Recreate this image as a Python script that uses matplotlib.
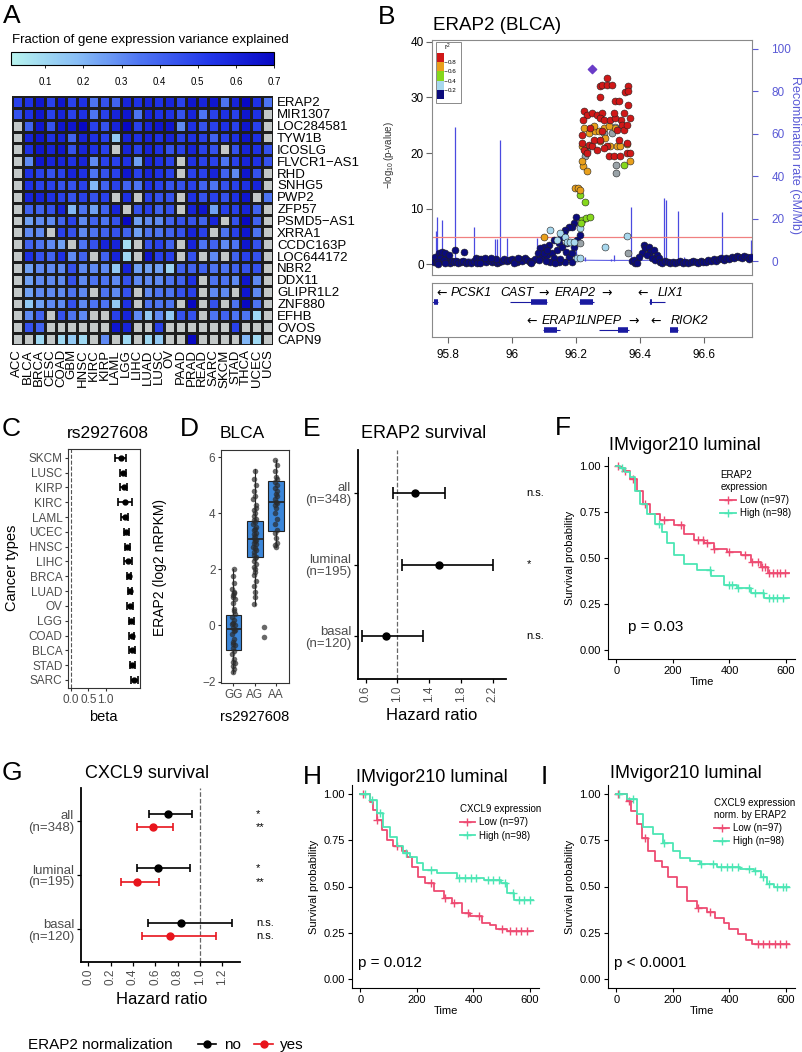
import matplotlib
matplotlib.use("Agg")
import matplotlib.pyplot as plt
import matplotlib.transforms as mtrans
from matplotlib.colors import LinearSegmentedColormap, ListedColormap, BoundaryNorm
from matplotlib.lines import Line2D
from matplotlib.patches import Rectangle
import numpy as np

plt.rcParams['font.family'] = ['Liberation Sans', 'DejaVu Sans']
plt.rcParams['mathtext.fontset'] = 'custom'
plt.rcParams['mathtext.rm'] = 'Liberation Sans'
plt.rcParams['mathtext.it'] = 'Liberation Sans:italic'

n = np.nan

# ---------------- panel A: variance explained heatmap
cancers = ['ACC', 'BLCA', 'BRCA', 'CESC', 'COAD', 'GBM', 'HNSC', 'KIRC', 'KIRP', 'LAML', 'LGG', 'LIHC',
           'LUAD', 'LUSC', 'OV', 'PAAD', 'PRAD', 'READ', 'SARC', 'SKCM', 'STAD', 'THCA', 'UCEC', 'UCS']
genes = ['ERAP2', 'MIR1307', 'LOC284581', 'TYW1B', 'ICOSLG', 'FLVCR1\u2212AS1', 'RHD', 'SNHG5', 'PWP2',
         'ZFP57', 'PSMD5\u2212AS1', 'XRRA1', 'CCDC163P', 'LOC644172', 'NBR2', 'DDX11', 'GLIPR1L2',
         'ZNF880', 'EFHB', 'OVOS', 'CAPN9']
heat_vals = [
    [0.50, 0.55, 0.65, 0.50, 0.65, 0.50, 0.55, 0.35, 0.45, 0.40, 0.60, 0.55, 0.60, 0.55, 0.60, 0.50, 0.65, 0.60, 0.65, 0.35, 0.60, 0.70, 0.55, 0.35],
    [0.45, 0.55, 0.65, 0.50, 0.60, 0.50, 0.55, 0.35, 0.50, 0.60, 0.65, 0.35, 0.60, 0.55, 0.55, 0.45, 0.60, 0.35, 0.50, 0.55, 0.50, 0.65, 0.55, n],
    [n, 0.40, 0.65, 0.45, 0.65, 0.65, 0.70, 0.50, 0.45, 0.60, 0.70, 0.50, 0.60, 0.65, 0.65, 0.30, 0.55, 0.45, 0.50, 0.55, 0.50, 0.65, 0.50, n],
    [n, 0.60, 0.65, 0.55, 0.60, 0.40, 0.60, 0.55, 0.50, 0.15, 0.60, 0.55, 0.60, 0.55, 0.60, 0.50, 0.55, 0.50, 0.40, 0.50, 0.55, 0.65, 0.55, n],
    [n, 0.55, 0.65, 0.60, 0.65, 0.45, 0.60, 0.55, 0.50, n, 0.60, 0.50, 0.60, 0.55, 0.45, 0.50, 0.60, 0.50, 0.45, n, 0.45, 0.60, 0.55, 0.45],
    [n, 0.30, 0.65, 0.60, 0.60, 0.55, 0.60, 0.30, 0.50, 0.50, 0.55, 0.25, 0.60, 0.55, 0.50, n, 0.55, 0.50, 0.50, 0.35, 0.50, 0.60, 0.55, 0.45],
    [n, 0.55, 0.50, 0.45, 0.50, 0.60, 0.55, 0.35, 0.45, 0.50, 0.65, 0.50, 0.60, 0.55, 0.50, n, 0.50, 0.50, 0.60, 0.40, 0.30, 0.65, 0.45, n],
    [n, 0.55, 0.50, 0.50, 0.45, 0.45, 0.50, 0.20, 0.40, 0.50, 0.40, 0.35, 0.55, 0.50, 0.45, 0.45, 0.50, 0.40, 0.35, 0.45, 0.50, 0.55, 0.60, n],
    [n, 0.60, 0.60, 0.55, 0.50, 0.45, 0.50, 0.45, 0.50, n, 0.55, n, 0.50, 0.45, 0.45, n, 0.55, 0.45, 0.50, 0.45, 0.55, 0.65, n, 0.35],
    [n, 0.40, 0.40, 0.45, 0.60, 0.20, 0.35, 0.25, 0.40, 0.60, n, 0.45, 0.50, 0.40, 0.45, n, 0.60, 0.65, 0.25, 0.50, 0.50, 0.60, 0.40, n],
    [n, 0.25, 0.30, 0.30, 0.40, 0.50, 0.30, 0.40, 0.35, 0.45, 0.70, 0.25, 0.30, 0.30, 0.40, 0.45, 0.45, 0.40, 0.60, n, 0.45, 0.70, 0.40, n],
    [n, 0.30, 0.30, n, 0.50, 0.45, 0.30, 0.35, 0.40, 0.45, 0.40, 0.25, 0.35, 0.35, 0.40, 0.45, 0.60, 0.50, n, 0.35, 0.50, 0.65, 0.35, n],
    [n, 0.40, 0.35, 0.30, 0.25, n, 0.35, 0.45, 0.60, 0.60, 0.08, n, 0.45, 0.50, 0.40, n, 0.60, 0.35, 0.40, 0.30, 0.35, 0.65, 0.45, n],
    [n, 0.55, 0.45, 0.40, 0.55, 0.30, 0.40, n, 0.40, 0.60, 0.10, n, 0.65, 0.50, 0.50, n, 0.45, n, 0.30, n, 0.40, 0.50, 0.45, n],
    [n, 0.25, 0.30, 0.30, 0.30, 0.45, 0.30, 0.30, 0.30, 0.15, 0.60, 0.25, 0.25, 0.25, 0.12, 0.40, 0.40, 0.40, 0.35, 0.35, 0.40, 0.45, 0.45, n],
    [n, 0.25, 0.30, 0.30, 0.30, 0.45, 0.30, 0.35, 0.35, 0.30, 0.45, 0.30, 0.30, 0.30, 0.35, 0.40, 0.55, n, 0.35, 0.35, 0.30, 0.65, 0.30, n],
    [n, 0.25, 0.30, 0.30, 0.30, 0.35, 0.30, n, 0.35, 0.30, 0.45, n, 0.30, 0.35, 0.35, 0.45, 0.50, n, 0.30, 0.30, n, 0.65, 0.30, n],
    [n, 0.15, 0.25, 0.30, 0.30, 0.45, 0.30, 0.35, 0.35, 0.15, 0.55, n, 0.35, 0.35, 0.35, n, 0.70, n, 0.45, n, 0.35, 0.70, 0.35, n],
    [n, 0.30, 0.40, n, 0.45, 0.35, 0.30, n, n, 0.50, 0.60, 0.30, 0.15, 0.30, 0.15, 0.45, 0.45, n, 0.35, 0.40, 0.35, 0.35, 0.10, n],
    [n, 0.45, 0.40, n, n, n, n, n, n, 0.65, 0.60, n, n, 0.50, n, n, n, n, n, n, 0.50, n, n, n],
    [n, n, 0.10, n, 0.10, 0.15, 0.10, n, 0.30, n, 0.10, n, 0.10, 0.15, n, n, 0.70, n, n, n, n, 0.20, 0.10, n],
]
cbar_ticks = [0.1, 0.2, 0.3, 0.4, 0.5, 0.6, 0.7]

# ---------------- panel B: regional association plot
navy_x = [95.756, 95.762, 95.768, 95.774, 95.78, 95.786, 95.792, 95.798, 95.805, 95.812, 95.818, 95.825,
          95.832, 95.84, 95.848, 95.856, 95.864, 95.872, 95.88, 95.888, 95.896, 95.904, 95.912, 95.92,
          95.928, 95.936, 95.944, 95.952, 95.96, 95.968, 95.976, 95.984, 95.992, 96.0, 96.008, 96.016,
          96.024, 96.032, 96.04, 96.048, 96.056, 96.064, 96.072,
          95.76, 95.771, 95.781, 95.792, 95.802, 95.823, 95.849, 95.776, 95.786, 95.766, 95.77, 95.79,
          95.89, 95.9, 95.95, 95.915, 95.935, 96.005, 96.02, 96.06,
          96.201, 96.193, 96.188, 96.177, 96.167, 96.161, 96.153, 96.146, 96.13, 96.115, 96.099, 96.089,
          96.08, 96.095, 96.109, 96.125, 96.13, 96.141, 96.157, 96.169, 96.177, 96.188, 96.193, 96.203,
          96.214, 96.172, 96.12, 96.146, 96.167, 96.188, 96.099, 96.109, 96.085, 96.105, 96.135, 96.15,
          96.375, 96.385, 96.411, 96.417, 96.427, 96.432, 96.443, 96.453, 96.405, 96.396, 96.422, 96.438,
          96.448, 96.458, 96.38, 96.391,
          96.462, 96.47, 96.478, 96.486, 96.494, 96.502, 96.51, 96.518, 96.526, 96.534, 96.542, 96.55,
          96.558, 96.566, 96.574, 96.582, 96.59, 96.598, 96.606, 96.614, 96.622, 96.63, 96.638, 96.646,
          96.654, 96.662, 96.67, 96.678, 96.686, 96.694, 96.702, 96.71, 96.718, 96.726, 96.734, 96.742,
          96.748]
navy_y = [0.4, 0.8, 1.2, 1.6, 0.6, 1.0, 0.5, 0.9, 0.3, 0.6, 0.4, 0.7,
          0.3, 0.5, 0.6, 0.3, 0.4, 0.2, 0.7, 1.1, 0.9, 1.0, 0.6, 0.5,
          0.8, 0.4, 0.6, 0.3, 0.5, 0.7, 0.9, 0.6, 0.8, 1.0, 0.7, 0.5,
          0.9, 0.6, 1.1, 0.8, 0.4, 0.7, 1.0,
          1.4, 2.0, 2.3, 2.0, 1.7, 2.5, 2.2, 1.1, 0.8, 0.5, 0.1, 0.2,
          0.3, 0.2, 0.9, 1.2, 1.1, 0.3, 1.2, 0.3,
          8.6, 7.4, 6.8, 6.8, 6.2, 5.6, 4.9, 3.8, 4.4, 3.5, 3.2, 2.9,
          2.0, 1.4, 1.7, 2.0, 1.1, 2.6, 3.2, 2.3, 1.4, 2.0, 3.2, 4.4,
          5.3, 3.8, 0.5, 0.5, 0.5, 0.5, 2.0, 2.6, 0.8, 0.6, 0.3, 1.0,
          0.6, 0.3, 3.5, 2.9, 3.2, 2.3, 2.6, 1.7, 2.0, 1.4, 1.7, 1.1,
          0.8, 1.1, 0.8, 0.2,
          0.5, 0.3, 0.6, 0.4, 0.2, 0.5, 0.3, 0.4, 0.6, 0.3, 0.5, 0.2,
          0.4, 0.6, 0.5, 0.3, 0.7, 0.5, 0.4, 0.8, 0.6, 1.0, 0.7, 0.9,
          1.1, 0.8, 1.2, 1.0, 1.4, 1.1, 1.5, 1.3, 1.2, 1.6, 1.3, 1.0,
          1.4]
lblue_x = [96.12, 96.151, 96.167, 96.172, 96.182, 96.193, 96.214, 96.292, 96.359, 96.323, 96.203, 96.214, 96.14]
lblue_y = [6.2, 5.6, 5.0, 4.1, 4.1, 4.1, 6.5, 3.2, 5.1, 24.6, 1.1, 1.1, 4.4]
green_x = [96.214, 96.227, 96.219, 96.215, 96.23, 96.243, 96.349]
green_y = [12.5, 11.2, 8.0, 7.4, 8.3, 8.6, 17.9]
orange_x = [96.198, 96.205, 96.211, 96.222, 96.234, 96.219, 96.224, 96.24, 96.26, 96.271, 96.286, 96.276,
            96.292, 96.219, 96.229, 96.307, 96.328, 96.339, 96.359, 96.37, 96.323, 96.302, 96.255, 96.101]
orange_y = [13.8, 13.7, 13.4, 17.6, 16.7, 18.6, 24.5, 23.6, 23.9, 23.9, 24.5, 22.1,
            22.7, 21.2, 20.3, 21.2, 21.2, 21.2, 21.6, 18.5, 24.5, 24.8, 24.8, 4.9]
red_x = [96.224, 96.234, 96.25, 96.266, 96.281, 96.297, 96.274, 96.281, 96.297, 96.312, 96.276, 96.323,
         96.333, 96.364, 96.354, 96.364, 96.364, 96.37, 96.349, 96.341, 96.276, 96.286, 96.307, 96.323,
         96.219, 96.219, 96.224, 96.24, 96.25, 96.266, 96.255, 96.276, 96.302, 96.318, 96.339, 96.359,
         96.37, 96.297, 96.333, 96.344, 96.222, 96.245, 96.281, 96.328, 96.349, 96.359, 96.318, 96.234,
         96.286, 96.359]
red_y = [27.5, 26.9, 27.2, 26.9, 27.2, 33.5, 32.1, 32.3, 32.3, 32.3, 30.0, 29.4,
         29.4, 32.1, 31.0, 31.1, 28.7, 26.3, 27.2, 26.0, 26.3, 26.0, 26.0, 26.3,
         23.3, 21.8, 20.6, 21.5, 21.2, 20.6, 22.4, 22.4, 19.4, 19.4, 19.4, 20.0,
         20.0, 21.2, 22.4, 25.1, 26.0, 24.5, 23.9, 24.2, 24.2, 25.1, 27.2, 20.0,
         20.9, 21.8]
gray_x = [96.229, 96.234, 96.286, 96.312, 96.326, 96.326, 96.25, 96.364, 96.214]
gray_y = [19.4, 20.3, 23.6, 23.6, 17.9, 16.4, 24.5, 2.0, 3.8]
lead_x = [96.25]
lead_y = [35.1]
rec_spike_pos = [95.763, 95.766, 95.781, 95.821, 95.882, 95.948, 95.953, 95.961, 95.984, 96.078, 96.201,
                 96.227, 96.309, 96.319, 96.372, 96.474, 96.481, 96.519, 96.537, 96.657, 96.748]
rec_spike_val = [14.0, 20.9, 19.3, 63.4, 16.2, 10.2, 10.5, 57.1, 10.7, 10.7, 6.1,
                 2.0, 1.0, 3.0, 25.6, 29.6, 28.9, 23.7, 2.0, 23.3, 10.0]
rec_base_pos = [95.75, 95.8, 95.9, 96.0, 96.1, 96.2, 96.3, 96.4, 96.5, 96.6, 96.7, 96.75]
rec_base_val = [1.2, 1.0, 0.8, 0.9, 0.6, 0.4, 0.3, 0.3, 0.5, 0.6, 0.8, 0.9]
r2_bounds = [0, 0.2, 0.4, 0.6, 0.8, 1.0]
r2_colors = ['#0b0b7c', '#a8d8ee', '#86d81c', '#e9a01c', '#d01818']
gene_names = ['PCSK1', 'CAST', 'ERAP2', 'LIX1', 'ERAP1', 'LNPEP', 'RIOK2']
gene_start = [95.72, 95.995, 96.21, 96.427, 96.096, 96.271, 96.495]
gene_end = [95.768, 96.109, 96.255, 96.479, 96.151, 96.365, 96.518]
exon_start = [95.755, 96.06, 96.212, 96.43, 96.1, 96.33, 96.495]
exon_end = [95.768, 96.109, 96.253, 96.436, 96.14, 96.362, 96.518]
gene_row = [0, 0, 0, 0, 1, 1, 1]
gene_label_x = [95.872, 96.016, 96.196, 96.497, 96.157, 96.28, 96.554]
gene_arrow = ['\u2190', '\u2192', '\u2192', '\u2190', '\u2190', '\u2192', '\u2190']
gene_arrow_x = [95.78, 96.10, 96.294, 96.409, 96.06, 96.38, 96.448]

# ---------------- panel C: eQTL effect per cancer type
c_types = ['SKCM', 'LUSC', 'KIRP', 'KIRC', 'LAML', 'UCEC', 'HNSC', 'LIHC', 'BRCA', 'LUAD', 'OV', 'LGG',
           'COAD', 'BLCA', 'STAD', 'SARC']
c_beta = [1.43, 1.50, 1.52, 1.55, 1.55, 1.59, 1.62, 1.64, 1.67, 1.69, 1.70, 1.73, 1.74, 1.76, 1.76, 1.81]
c_err = [0.16, 0.08, 0.10, 0.20, 0.10, 0.08, 0.07, 0.12, 0.05, 0.06, 0.08, 0.07, 0.08, 0.09, 0.08, 0.10]

# ---------------- panel D: ERAP2 expression by genotype (BLCA)
d_geno = ['GG', 'AG', 'AA']
d_q1 = [-0.87, 2.43, 3.37]
d_med = [-0.14, 3.08, 4.40]
d_q3 = [0.39, 3.73, 5.15]
d_wlo = [-1.70, 0.72, 2.80]
d_whi = [2.00, 5.56, 5.91]
d_gg = [2.0, 1.75, 1.5, 1.3, 1.2, 1.1, 0.95, 0.8, 0.6, 0.4, 0.3, 0.2, 0.1, 0.0, -0.1, -0.2, -0.3, -0.5,
        -0.6, -0.7, -0.8, -0.9, -1.0, -1.2, -1.3, -1.35, -1.45, -1.55, -1.65, 0.05, -0.15, -0.65, 0.5,
        1.0, 1.15]
d_gg_jit = [0.02, -0.03, 0.04, -0.05, 0.03, -0.02, 0.05, -0.04, 0.01, 0.06, -0.06, 0.02, -0.03, 0.05,
            -0.01, 0.04, -0.05, 0.03, -0.02, 0.06, -0.04, 0.01, -0.06, 0.03, -0.02, 0.05, -0.04, 0.02,
            0.0, -0.05, 0.06, -0.03, 0.04, -0.01, 0.03]
d_ag = [5.5, 5.2, 5.0, 4.8, 4.6, 4.5, 4.3, 4.2, 4.1, 4.0, 3.9, 3.8, 3.75, 3.7, 3.6, 3.5, 3.45, 3.4,
        3.3, 3.25, 3.2, 3.1, 3.05, 3.0, 2.95, 2.9, 2.8, 2.75, 2.7, 2.6, 2.5, 2.45, 2.4, 2.3, 2.2, 2.1,
        2.0, 1.9, 1.8, 1.6, 1.4, 1.2, 1.0, 0.75, -0.05, -0.4]
d_ag_jit = [0.0, -0.04, 0.05, -0.02, 0.03, -0.06, 0.04, 0.06, -0.03, 0.02, -0.05, 0.05, -0.01, 0.03,
            -0.06, 0.04, 0.01, -0.04, 0.06, -0.02, 0.03, -0.05, 0.05, 0.0, -0.03, 0.06, -0.06, 0.02,
            0.04, -0.01, -0.05, 0.05, 0.02, -0.03, 0.06, -0.04, 0.01, 0.03, -0.02, 0.04, -0.05, 0.02,
            0.0, -0.03, 0.45, 0.45]
d_aa = [5.9, 5.7, 5.5, 5.3, 5.2, 5.1, 5.0, 4.9, 4.8, 4.7, 4.6, 4.5, 4.4, 4.35, 4.3, 4.2, 4.0, 3.8,
        3.6, 3.4, 3.3, 3.1, 2.95, 2.85, 2.8]
d_aa_jit = [-0.03, 0.04, -0.05, 0.02, 0.06, -0.02, 0.03, -0.06, 0.05, -0.01, 0.04, -0.04, 0.0, 0.06,
            -0.05, 0.02, -0.03, 0.05, -0.02, 0.03, -0.04, 0.01, 0.05, -0.03, 0.02]

# ---------------- panel E / G: hazard ratios
e_groups = ['all\n(n=348)', 'luminal\n(n=195)', 'basal\n(n=120)']
e_hr = [1.22, 1.53, 0.85]
e_lo = [0.945, 1.054, 0.55]
e_hi = [1.60, 2.21, 1.32]
e_sig = ['n.s.', '*', 'n.s.']
e_ticks = [0.6, 1.0, 1.4, 1.8, 2.2]
g_hr_no = [0.716, 0.626, 0.829]
g_lo_no = [0.546, 0.433, 0.531]
g_hi_no = [0.93, 0.91, 1.283]
g_sig_no = ['*', '*', 'n.s.']
g_hr_yes = [0.58, 0.433, 0.734]
g_lo_yes = [0.44, 0.29, 0.477]
g_hi_yes = [0.76, 0.632, 1.14]
g_sig_yes = ['**', '**', 'n.s.']
g_ticks = [0.0, 0.2, 0.4, 0.6, 0.8, 1.0, 1.2]

# ---------------- panels F / H / I: Kaplan-Meier curves (time, survival)
f_low_t = [0, 10, 25, 48, 71, 95, 119, 154, 202, 238, 273, 309, 345, 392, 440, 475, 511, 535, 610]
f_low_s = [1.0, 0.99, 0.975, 0.93, 0.867, 0.795, 0.74, 0.705, 0.68, 0.633, 0.597, 0.58, 0.55, 0.534,
           0.516, 0.48, 0.453, 0.417, 0.417]
f_low_c = [5, 30, 60, 100, 170, 230, 290, 305, 320, 345, 400, 455, 480, 500, 515, 525, 540, 555, 570, 580, 595]
f_high_t = [0, 12, 30, 48, 65, 83, 107, 137, 160, 178, 202, 238, 285, 333, 380, 428, 475, 523, 610]
f_high_s = [1.0, 0.99, 0.97, 0.94, 0.867, 0.795, 0.74, 0.687, 0.64, 0.58, 0.516, 0.47, 0.435, 0.4,
            0.354, 0.336, 0.31, 0.282, 0.282]
f_high_c = [20, 150, 330, 400, 410, 430, 470, 490, 520, 540, 555, 570, 590]
h_low_t = [0, 33, 45, 57, 75, 93, 116, 146, 164, 181, 205, 229, 259, 294, 324, 359, 389, 430, 460, 480, 520, 610]
h_low_s = [1.0, 0.96, 0.915, 0.86, 0.807, 0.753, 0.717, 0.69, 0.662, 0.608, 0.554, 0.518, 0.473,
           0.437, 0.41, 0.356, 0.338, 0.30, 0.29, 0.27, 0.26, 0.26]
h_low_c = [8, 60, 130, 250, 300, 330, 380, 420, 500, 530, 550, 570, 590]
h_high_t = [0, 33, 57, 81, 104, 128, 152, 176, 199, 223, 270, 342, 437, 496, 520, 543, 610]
h_high_s = [1.0, 0.97, 0.897, 0.825, 0.77, 0.717, 0.68, 0.662, 0.626, 0.59, 0.572, 0.545, 0.536,
            0.518, 0.464, 0.428, 0.428]
h_high_c = [15, 40, 70, 160, 250, 350, 370, 390, 410, 450, 470, 490, 510, 540, 560, 580, 600]
i_low_t = [0, 36, 53, 71, 89, 113, 136, 160, 184, 214, 249, 285, 320, 350, 380, 400, 430, 460, 480, 610]
i_low_s = [1.0, 0.964, 0.91, 0.838, 0.765, 0.693, 0.639, 0.603, 0.549, 0.495, 0.422, 0.386, 0.36,
           0.33, 0.30, 0.27, 0.24, 0.21, 0.19, 0.19]
i_low_c = [5, 45, 100, 290, 330, 500, 520, 540, 560, 580, 600]
i_high_t = [0, 36, 71, 95, 130, 166, 201, 225, 261, 297, 356, 439, 486, 510, 534, 557, 610]
i_high_s = [1.0, 0.973, 0.892, 0.82, 0.783, 0.738, 0.693, 0.657, 0.639, 0.621, 0.603, 0.594, 0.585,
            0.549, 0.513, 0.495, 0.495]
i_high_c = [10, 60, 170, 300, 340, 370, 390, 410, 430, 470, 490, 520, 540, 570, 590, 600]
km_ticks = [0, 200, 400, 600]

COL_LOW = '#ee4b72'
COL_HIGH = '#4ce6b4'
GREY_TXT = '#4d4d4d'

W, H = 802, 1052
fig = plt.figure(figsize=(W / 100, H / 100), dpi=100)


def box(x0, y0, x1, y1):
    return [x0 / W, 1 - y1 / H, (x1 - x0) / W, (y1 - y0) / H]


def ftext(x, y, s, **kw):
    fig.text(x / W, 1 - y / H, s, **kw)


# panel letters
for letter, lx, ly in [('A', 3, 16), ('B', 378, 17), ('C', 2, 429), ('D', 180, 429), ('E', 303, 429),
                       ('F', 555, 428), ('G', 2, 773), ('H', 303, 777), ('I', 541, 777)]:
    ftext(lx, ly, letter, fontsize=19, va='center', ha='left')

# ================= A
axA = fig.add_axes(box(12, 96, 273, 345))
vals = np.ma.masked_invalid(np.array(heat_vals, dtype=float))
cmapA = LinearSegmentedColormap.from_list('varexp', ['#b8f4ee', '#88bef6', '#4c72f2', '#2238ea', '#0808c4'])
cmapA.set_bad('#c3c8c8')
mesh = axA.pcolormesh(vals, cmap=cmapA, vmin=0.01, vmax=0.7, edgecolors='#1e1e1e', linewidth=0.9)
axA.set_facecolor('#c3c8c8')
axA.set_xlim(0, len(cancers))
axA.set_ylim(len(genes), 0)
axA.set_xticks(np.arange(len(cancers)) + 0.5)
axA.set_xticklabels(cancers, rotation=90, fontsize=9.5)
axA.yaxis.tick_right()
axA.set_yticks(np.arange(len(genes)) + 0.5)
axA.set_yticklabels(genes, fontsize=9.5)
axA.tick_params(length=0, pad=3)
for s in axA.spines.values():
    s.set_visible(False)

cax = fig.add_axes(box(11, 52, 274, 65))
cb = fig.colorbar(mesh, cax=cax, orientation='horizontal', ticks=cbar_ticks)
cb.ax.tick_params(direction='out', length=2.5, labelsize=7, pad=6, width=0.6)
cb.outline.set_linewidth(0.8)
ftext(12, 40, 'Fraction of gene expression variance explained', fontsize=9.5, va='center')

# ================= B
axB = fig.add_axes(box(432, 40, 752, 275))
axR = axB.twinx()
axB.set_zorder(2)
axR.set_zorder(1)
axB.patch.set_visible(False)
axB.set_xlim(95.75, 96.75)
axB.set_ylim(-1.9, 40.3)
axR.set_ylim(-6.6, 104.2)
axR.vlines(rec_spike_pos, 0, rec_spike_val, color='#4a4ae0', lw=0.9)
axR.plot(rec_base_pos, rec_base_val, color='#4a4ae0', lw=0.7)
axB.axhline(5, color='#f08080', lw=0.9, zorder=1)
pt = dict(s=25, edgecolors='#222222', linewidths=0.4, zorder=3)
axB.scatter(navy_x, navy_y, c=r2_colors[0], **pt)
axB.scatter(gray_x, gray_y, c='#9aa3a8', **pt)
axB.scatter(lblue_x, lblue_y, c=r2_colors[1], **pt)
axB.scatter(green_x, green_y, c=r2_colors[2], **pt)
axB.scatter(orange_x, orange_y, c=r2_colors[3], **pt)
axB.scatter(red_x, red_y, c=r2_colors[4], **pt)
axB.scatter(lead_x, lead_y, c='#6a3cc8', marker='D', s=18, edgecolors='#6a3cc8', zorder=4)
axB.set_xticks([])
axB.set_yticks([0, 10, 20, 30, 40])
axB.tick_params(axis='y', labelsize=8.5, length=4, color='#666666', pad=2)
for s in axB.spines.values():
    s.set_color('#8a8a8a')
for s in axR.spines.values():
    s.set_visible(False)
axR.set_yticks([0, 20, 40, 60, 80, 100])
axR.tick_params(axis='y', labelsize=8.5, length=4, colors='#5a5ad6', pad=10)
ftext(389, 155, r'$-\log_{10}$(p-value)', fontsize=7, rotation=90, va='center', ha='center', color='#333333')
ftext(795, 155, 'Recombination rate (cM/Mb)', fontsize=9, rotation=270, va='center', ha='center',
      color='#5a5ad6')
ftext(433, 25, 'ERAP2 (BLCA)', fontsize=13.5, va='center')

# r2 legend
axL = fig.add_axes(box(437, 53, 444, 99))
axL.pcolormesh([0, 1], r2_bounds, np.array([[0.1], [0.3], [0.5], [0.7], [0.9]]),
               cmap=ListedColormap(r2_colors), norm=BoundaryNorm(r2_bounds, 5))
axL.set_xticks([])
axL.yaxis.tick_right()
axL.set_yticks(r2_bounds[1:-1])
axL.set_yticklabels(['0.2', '0.4', '0.6', '0.8'], fontsize=4.5)
axL.tick_params(length=2, pad=1, width=0.4)
for s in axL.spines.values():
    s.set_visible(False)
fig.patches.append(Rectangle((435.5 / W, 1 - 103 / H), 25 / W, 61 / H, transform=fig.transFigure,
                             fill=False, edgecolor='#8a8a8a', lw=0.7))
ftext(447, 47, r'r$^2$', fontsize=5, ha='center', va='center')

# gene track
axG = fig.add_axes(box(432, 283, 752, 337))
axG.set_xlim(95.75, 96.75)
axG.set_ylim(0, 1)
row_y = {0: 0.648, 1: 0.13}
for i, g in enumerate(gene_names):
    yy = row_y[gene_row[i]]
    axG.hlines(yy, gene_start[i], gene_end[i], color='#1a1aa0', lw=0.8)
    axG.hlines(yy, exon_start[i], exon_end[i], color='#1a1aa0', lw=4)
    axG.text(gene_label_x[i], yy + 0.17, g, fontsize=9, style='italic', ha='center', va='center')
    axG.text(gene_arrow_x[i], yy + 0.17, gene_arrow[i], fontsize=9, ha='center', va='center',
             family='DejaVu Sans')
axG.set_yticks([])
axG.set_xticks([95.8, 96.0, 96.2, 96.4, 96.6])
axG.set_xticklabels(['95.8', '96', '96.2', '96.4', '96.6'])
axG.tick_params(axis='x', labelsize=8.5, length=4, color='#666666', pad=5)
for s in axG.spines.values():
    s.set_color('#8a8a8a')

# ================= C
axC = fig.add_axes(box(68, 449, 140, 688))
yc = np.arange(len(c_types))
axC.axvline(0, ls='--', color='#555555', lw=0.8)
axC.errorbar(c_beta, yc, xerr=c_err, fmt='o', color='black', ms=3.5, capsize=3, lw=1.2, capthick=1.2)
axC.set_ylim(len(c_types) - 0.46, -0.59)
axC.set_xlim(-0.08, 1.98)
axC.set_yticks(yc)
axC.set_yticklabels(c_types)
axC.set_xticks([0.0, 0.5, 1.0])
axC.set_xticklabels(['0.0', '0.5', '1.0'])
axC.tick_params(labelsize=8.5, labelcolor=GREY_TXT, length=2.5, color='#333333', pad=1.5)
for s in axC.spines.values():
    s.set_color('#333333')
    s.set_linewidth(0.8)
ftext(103, 717, 'beta', fontsize=10.5, ha='center', va='center')
ftext(12, 568, 'Cancer types', fontsize=10.5, rotation=90, ha='center', va='center')
ftext(108, 433, 'rs2927608', fontsize=12.5, ha='center', va='center')

# ================= D
axD = fig.add_axes(box(221, 450, 289, 683))
stats = [dict(q1=d_q1[i], med=d_med[i], q3=d_q3[i], whislo=d_wlo[i], whishi=d_whi[i], fliers=[])
         for i in range(3)]
axD.bxp(stats, positions=[0, 1, 2], widths=0.75, patch_artist=True, showfliers=False,
        boxprops=dict(facecolor='#3b86d9', edgecolor='#222222', lw=0.8),
        medianprops=dict(color='#222222', lw=1.2), whiskerprops=dict(color='#222222', lw=0.8),
        capprops=dict(lw=0))
for k, (vals_d, jit) in enumerate([(d_gg, d_gg_jit), (d_ag, d_ag_jit), (d_aa, d_aa_jit)]):
    axD.scatter(k + np.array(jit), vals_d, s=16, color='#2a2a2a', alpha=0.7, lw=0, zorder=3)
axD.set_xlim(-0.59, 2.62)
axD.set_ylim(-2.05, 6.25)
axD.set_xticks([0, 1, 2])
axD.set_xticklabels(d_geno)
axD.set_yticks([-2, 0, 2, 4, 6])
axD.set_yticklabels(['\u22122', '0', '2', '4', '6'])
axD.tick_params(labelsize=8.5, labelcolor=GREY_TXT, length=2.5, color='#333333', pad=1.5)
for s in axD.spines.values():
    s.set_color('#333333')
    s.set_linewidth(0.8)
ftext(255, 717, 'rs2927608', fontsize=10.5, ha='center', va='center')
ftext(160, 567, 'ERAP2 (log2 nRPKM)', fontsize=10, rotation=90, ha='center', va='center')
ftext(242, 433, 'BLCA', fontsize=12.5, ha='center', va='center')


# ================= E / G helper
def hr_axes(ax, ticks):
    for s in ['top', 'right']:
        ax.spines[s].set_visible(False)
    for s in ['left', 'bottom']:
        ax.spines[s].set_linewidth(1.3)
    ax.set_ylim(0.4, 3.6)
    ax.set_yticks([3, 2, 1])
    ax.set_yticklabels(e_groups, fontsize=9.5, color=GREY_TXT, linespacing=1.0)
    ax.set_xticks(ticks)
    ax.set_xticklabels(['%.1f' % t for t in ticks], rotation=90, fontsize=8.5, color=GREY_TXT)
    ax.tick_params(length=3, width=0.9, pad=2)
    ax.axvline(1.0, ls='--', color='#666666', lw=0.9, zorder=0)


axE = fig.add_axes(box(358, 450, 506, 679))
ye = np.array([3, 2, 1])
axE.errorbar(e_hr, ye, xerr=[np.array(e_hr) - np.array(e_lo), np.array(e_hi) - np.array(e_hr)],
             fmt='o', color='black', ms=5, capsize=4, lw=1.2, capthick=1.2)
axE.set_xlim(0.503, 2.37)
hr_axes(axE, e_ticks)
trE = mtrans.blended_transform_factory(axE.transAxes, axE.transData)
for yv, s in zip(ye, e_sig):
    axE.text(1.14, yv, s, transform=trE, fontsize=8, ha='left', va='center', clip_on=False)
ftext(432, 716, 'Hazard ratio', fontsize=12, ha='center', va='center')
ftext(424, 433, 'ERAP2 survival', fontsize=13, ha='center', va='center')

axGg = fig.add_axes(box(81, 788, 240, 962))
yg = np.array([3, 2, 1])
off = 0.125
axGg.errorbar(g_hr_no, yg + off,
              xerr=[np.array(g_hr_no) - np.array(g_lo_no), np.array(g_hi_no) - np.array(g_hr_no)],
              fmt='o', color='black', ms=5, capsize=3, lw=1.2, capthick=1.2)
axGg.errorbar(g_hr_yes, yg - off,
              xerr=[np.array(g_hr_yes) - np.array(g_lo_yes), np.array(g_hi_yes) - np.array(g_hr_yes)],
              fmt='o', color='#e8141c', ms=5, capsize=3, lw=1.2, capthick=1.2)
axGg.set_xlim(-0.065, 1.357)
hr_axes(axGg, g_ticks)
trG = mtrans.blended_transform_factory(axGg.transAxes, axGg.transData)
for yv, s1, s2 in zip(yg, g_sig_no, g_sig_yes):
    axGg.text(1.10, yv + off, s1, transform=trG, fontsize=8, ha='left', va='center', clip_on=False)
    axGg.text(1.10, yv - off, s2, transform=trG, fontsize=8, ha='left', va='center', clip_on=False)
ftext(162, 1000, 'Hazard ratio', fontsize=12, ha='center', va='center')
ftext(147, 773, 'CXCL9 survival', fontsize=13, ha='center', va='center')

ftext(28, 1045, 'ERAP2 normalization', fontsize=11, va='center')
leg_h = [Line2D([], [], color='black', marker='o', ms=5, lw=1.2),
         Line2D([], [], color='#e8141c', marker='o', ms=5, lw=1.2)]
fig.legend(leg_h, ['no', 'yes'], ncol=2, loc='center left', bbox_to_anchor=(184 / W, 1 - 1045 / H),
           frameon=False, fontsize=11, handlelength=1.2, handletextpad=0.5, columnspacing=0.9)


# ================= KM panels
def km(ax, low, high, title_leg, pval, pxy, legxy):
    for (t, s, c), col in [(low, COL_LOW), (high, COL_HIGH)]:
        ax.step(t, s, where='post', color=col, lw=1.3)
        idx = np.searchsorted(t, c, side='right') - 1
        ax.plot(c, np.array(s)[idx], ls='none', marker='+', color=col, ms=6, mew=1.0)
    ax.set_xlim(-30, 632)
    ax.set_ylim(-0.05, 1.05)
    ax.set_xticks(km_ticks)
    ax.set_yticks([0, 0.25, 0.5, 0.75, 1.0])
    ax.set_yticklabels(['0.00', '0.25', '0.50', '0.75', '1.00'])
    ax.tick_params(labelsize=8, length=3, pad=2)
    for sp in ['top', 'right']:
        ax.spines[sp].set_visible(False)
    ax.set_xlabel('Time', fontsize=8, labelpad=1)
    ax.set_ylabel('Survival probability', fontsize=8, labelpad=3)
    h = [Line2D([], [], color=COL_LOW, marker='+', ms=6, lw=1.3),
         Line2D([], [], color=COL_HIGH, marker='+', ms=6, lw=1.3)]
    lg = ax.legend(h, ['Low (n=97)', 'High (n=98)'], title=title_leg, loc='upper left',
                   bbox_to_anchor=legxy, frameon=False, fontsize=7, title_fontsize=7,
                   handlelength=1.6, handletextpad=0.4, labelspacing=0.35, borderpad=0)
    lg._legend_box.align = 'left'
    ax.text(pxy[0], pxy[1], pval, transform=ax.transAxes, fontsize=11, va='center')


axF = fig.add_axes(box(608, 457, 795, 659))
km(axF, (f_low_t, f_low_s, f_low_c), (f_high_t, f_high_s, f_high_c), 'ERAP2\nexpression',
   'p = 0.03', (0.107, 0.16), (0.575, 0.96))
ftext(685, 446, 'IMvigor210 luminal', fontsize=13, ha='center', va='center')

axH = fig.add_axes(box(352, 785, 539, 988))
km(axH, (h_low_t, h_low_s, h_low_c), (h_high_t, h_high_s, h_high_c), 'CXCL9 expression',
   'p = 0.012', (0.03, 0.125), (0.55, 0.93))
ftext(432, 777, 'IMvigor210 luminal', fontsize=13, ha='center', va='center')

axI = fig.add_axes(box(608, 785, 795, 988))
km(axI, (i_low_t, i_low_s, i_low_c), (i_high_t, i_high_s, i_high_c), 'CXCL9 expression\nnorm. by ERAP2',
   'p < 0.0001', (0.03, 0.125), (0.54, 0.96))
ftext(686, 773, 'IMvigor210 luminal', fontsize=13, ha='center', va='center')

fig.savefig('out.png', dpi=100)
